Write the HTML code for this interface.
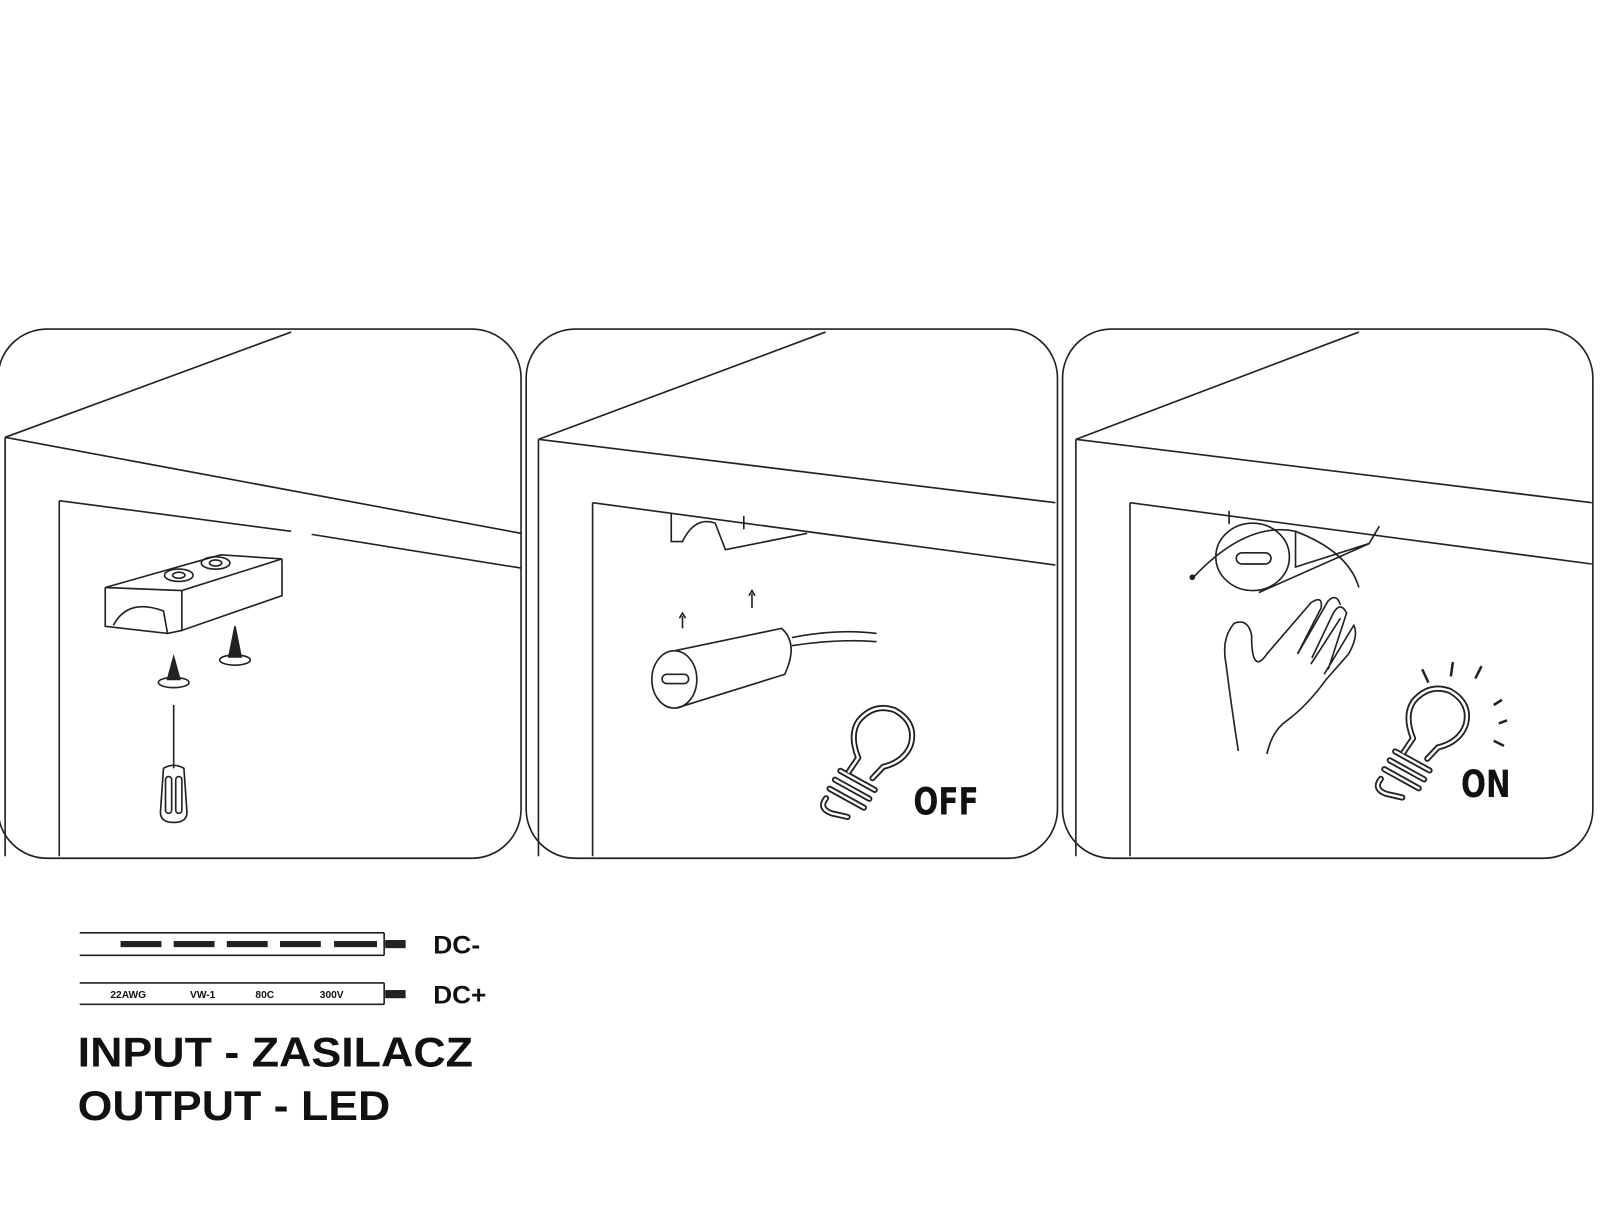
<!DOCTYPE html>
<html><head><style>
html,body{margin:0;padding:0;background:#fff;}
svg{display:block;}
text{font-family:"Liberation Sans",sans-serif;font-weight:bold;fill:#111;}
</style></head><body>
<svg width="1600" height="1222" viewBox="0 0 1566 1196" xmlns="http://www.w3.org/2000/svg">
<defs>
<g id="bulb">
<g fill="none" stroke="#222" stroke-width="6" stroke-linecap="round">
<path d="M -14 26 Q -30 8 -26 -8 Q -18 -30 4 -30 Q 28 -26 30 -4 Q 30 14 12 26 L 6 40"/>
<path d="M -14 26 L -18 42"/>
<path d="M -26 44 L 12 50 M -28 54 L 10 60 M -30 64 L 8 70 M -30 74 Q -34 86 -20 86 L -4 84"/>
</g>
<g fill="none" stroke="#fff" stroke-width="2.4" stroke-linecap="round">
<path d="M -14 26 Q -30 8 -26 -8 Q -18 -30 4 -30 Q 28 -26 30 -4 Q 30 14 12 26 L 6 40"/>
<path d="M -14 26 L -18 42"/>
<path d="M -26 44 L 12 50 M -28 54 L 10 60 M -30 64 L 8 70 M -30 74 Q -34 86 -20 86 L -4 84"/>
</g>
</g>
</defs>
<g fill="none" stroke="#222" stroke-width="1.6">
<rect x="-2" y="322" width="512" height="518" rx="48"/>
<rect x="515" y="322" width="520" height="518" rx="48"/>
<rect x="1040" y="322" width="519" height="518" rx="48"/>

<!-- Panel 1 -->
<line x1="5" y1="428" x2="285" y2="325"/>
<line x1="5" y1="428" x2="510" y2="522"/>
<line x1="5" y1="428" x2="5" y2="838"/>
<line x1="58" y1="490" x2="58" y2="838"/>
<line x1="58" y1="490" x2="285" y2="520"/>
<line x1="305" y1="523" x2="510" y2="556"/>
<path d="M103 575 L216 543 L276 547 L178 578 Z"/>
<path d="M103 575 L103 613 L164 620 L178 617 L178 578"/>
<path d="M178 617 L276 583 L276 547"/>
<path d="M111 612 Q125 585 160 598 L164 620"/>
<ellipse cx="175" cy="563" rx="14" ry="6"/>
<ellipse cx="211" cy="551" rx="14" ry="6"/>
<ellipse cx="175" cy="563" rx="6" ry="3"/>
<ellipse cx="211" cy="551" rx="6" ry="3"/>
<path d="M170 643 L164 665 L176 665 Z" fill="#222"/>
<ellipse cx="170" cy="668" rx="15" ry="5"/>
<path d="M230 613 L224 643 L236 643 Z" fill="#222"/>
<ellipse cx="230" cy="646" rx="15" ry="5"/>
<line x1="170" y1="690" x2="170" y2="752"/>
<path d="M160 752 Q170 746 180 752 L183 795 Q183 805 170 805 Q157 805 157 795 Z"/>
<rect x="162" y="760" width="6" height="36" rx="3"/>
<rect x="172" y="760" width="6" height="36" rx="3"/>

<!-- Panel 2 -->
<line x1="527" y1="430" x2="808" y2="325"/>
<line x1="527" y1="430" x2="1033" y2="492"/>
<line x1="527" y1="430" x2="527" y2="838"/>
<line x1="580" y1="492" x2="580" y2="838"/>
<line x1="580" y1="492" x2="1033" y2="553"/>
<path d="M657 502 L657 530 L668 530 Q680 505 700 512 L710 538 L790 522"/>
<line x1="728" y1="505" x2="728" y2="518"/>
<line x1="668" y1="603" x2="668" y2="615"/><line x1="736" y1="581" x2="736" y2="595"/>
<path d="M665 605 L668 600 L671 605 M733 583 L736 578 L739 583"/>
<ellipse cx="660" cy="665" rx="22" ry="28"/>
<rect x="648" y="660" width="26" height="9" rx="4.5"/>
<path d="M660 637 L765 615 Q782 630 768 660 L662 693"/>
<path d="M775 624 Q820 615 858 620 M775 632 Q820 625 858 628"/>

<!-- Panel 3 -->
<line x1="1053" y1="430" x2="1330" y2="325"/>
<line x1="1053" y1="430" x2="1558" y2="492"/>
<line x1="1053" y1="430" x2="1053" y2="838"/>
<line x1="1106" y1="492" x2="1106" y2="838"/>
<line x1="1106" y1="492" x2="1558" y2="552"/>
<path d="M1203 513 L1203 500 M1268 520 L1268 555 L1340 532 L1350 515"/>
<ellipse cx="1226" cy="545" rx="36" ry="33"/>
<rect x="1210" y="541" width="34" height="11" rx="5.5"/>
<path d="M1232 580 L1340 532"/>
<path d="M1168 565 Q1220 510 1268 520 Q1320 540 1330 575"/>
<circle cx="1167" cy="565" r="2" fill="#222"/>
<path d="M1212 735 Q1205 690 1200 650 Q1195 625 1208 610 Q1222 605 1225 622 Q1225 640 1228 645 Q1232 652 1240 640 L1283 590 Q1295 582 1293 595 L1270 640 M1284 644 L1305 600 Q1312 588 1318 600 L1300 655 M1296 660 L1325 612 Q1330 622 1320 640 L1298 665 Q1280 690 1260 705 Q1245 715 1240 738"/>
<path d="M1270 640 L1300 588 Q1308 580 1312 592 M1283 650 L1312 605"/>
<path d="M1398 668 L1392 655 M1420 662 L1422 648 M1444 664 L1450 652 M1462 690 L1470 685 M1467 708 L1475 705 M1462 725 L1472 730" stroke-width="2.5"/>

<line x1="78" y1="913" x2="376" y2="913"/>
<line x1="78" y1="935" x2="376" y2="935"/>
<line x1="376" y1="913" x2="376" y2="935"/>
<line x1="78" y1="962" x2="376" y2="962"/>
<line x1="78" y1="983" x2="376" y2="983"/>
<line x1="376" y1="962" x2="376" y2="983"/>
</g>
<use href="#bulb" transform="translate(862,722) rotate(20)"/>
<use href="#bulb" transform="translate(1405,703) rotate(20)"/>
<g fill="#222">
<rect x="118" y="921" width="40" height="6"/><rect x="170" y="921" width="40" height="6"/>
<rect x="222" y="921" width="40" height="6"/><rect x="274" y="921" width="40" height="6"/>
<rect x="327" y="921" width="42" height="6"/>
<rect x="377" y="920" width="20" height="8"/>
<rect x="377" y="969" width="20" height="8"/>
</g>
<text x="424" y="933" font-size="24" textLength="46" lengthAdjust="spacingAndGlyphs">DC-</text>
<text x="424" y="982" font-size="24" textLength="52" lengthAdjust="spacingAndGlyphs">DC+</text>
<text x="108" y="977" font-size="10">22AWG</text>
<text x="186" y="977" font-size="10">VW-1</text>
<text x="250" y="977" font-size="10">80C</text>
<text x="313" y="977" font-size="10">300V</text>
<text x="76" y="1044" font-size="41" textLength="387" lengthAdjust="spacingAndGlyphs">INPUT - ZASILACZ</text>
<text x="76" y="1096" font-size="41" textLength="306" lengthAdjust="spacingAndGlyphs">OUTPUT - LED</text>
<text x="894" y="797" font-size="32" style="font-family:'DejaVu Sans Condensed','Liberation Sans',sans-serif" transform="scale(1,1.15)" transform-origin="894 797">OFF</text>
<text x="1430" y="780" font-size="32" style="font-family:'DejaVu Sans Condensed','Liberation Sans',sans-serif" transform="scale(1,1.15)" transform-origin="1430 780">ON</text>
</svg>
</body></html>
